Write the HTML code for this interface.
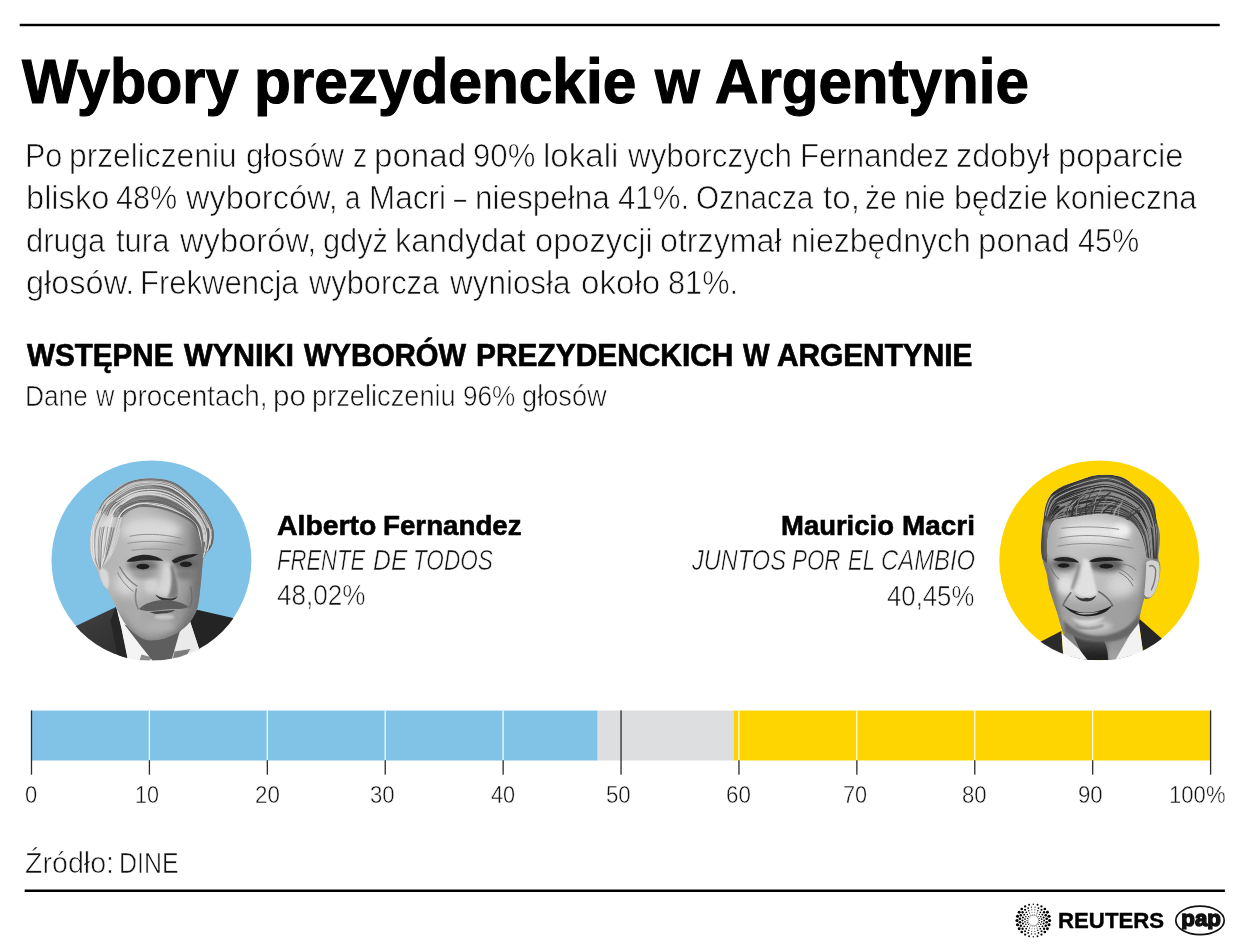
<!DOCTYPE html>
<html lang="pl">
<head>
<meta charset="utf-8">
<title>Wybory prezydenckie w Argentynie</title>
<style>
html,body{margin:0;padding:0;background:#fff}
#page{position:relative;width:1250px;height:949px;overflow:hidden;background:#fff;font-family:"Liberation Sans",sans-serif;color:#000}
.t{position:absolute;left:0;margin:0;padding:0;line-height:1;white-space:pre;font-weight:normal;font-style:normal;width:1250px;height:1em}
.t span{display:inline-block;width:0;line-height:1;vertical-align:baseline;white-space:pre;transform-origin:0 0;transform:scale(var(--s),1)}
.title,.sub,.name{font-weight:bold;color:#000}
.lead,.note,.party,.pct,.src{color:#111}
.lead span,.note span,.party span,.pct span,.src span,.axis span{-webkit-text-stroke:var(--e,1px) #fff}
.title span,.sub span,.name span,.reuters span{-webkit-text-stroke:var(--e,0) #000}
.party{font-style:italic}
.axis{color:#111}
.reuters{font-weight:bold;color:#000}
</style>
</head>
<body>
<div id="page">
<svg id="gfx" width="1250" height="949" viewBox="0 0 1250 949" style="position:absolute;left:0;top:0;display:block">
<defs><clipPath id="cA"><circle cx="151.45" cy="560.4" r="100.4"/></clipPath><clipPath id="cB"><circle cx="1099.2" cy="560.3" r="100.35000000000001"/></clipPath></defs>
<rect x="19.7" y="23.78" width="1200" height="2.45" fill="#000"/>
<rect x="24.7" y="889.5" width="1200.2" height="2.5" fill="#000"/>
<circle cx="151.45" cy="560.4" r="99.95" fill="#80c3e7"/>
<g clip-path="url(#cA)"><g transform="translate(51.45 460.40)">
<defs>
<filter id="ab0" x="-20%" y="-20%" width="140%" height="140%"><feGaussianBlur stdDeviation="0.6"/></filter>
<filter id="ab1" x="-20%" y="-20%" width="140%" height="140%"><feGaussianBlur stdDeviation="1.2"/></filter>
<filter id="ab2" x="-30%" y="-30%" width="160%" height="160%"><feGaussianBlur stdDeviation="2.5"/></filter>
<filter id="ab4" x="-40%" y="-40%" width="180%" height="180%"><feGaussianBlur stdDeviation="4.5"/></filter>
<filter id="agr" x="0" y="0" width="100%" height="100%"><feTurbulence type="fractalNoise" baseFrequency="0.9" numOctaves="2" seed="3" result="n"/><feColorMatrix in="n" type="matrix" values="0 0 0 0 0.5  0 0 0 0 0.5  0 0 0 0 0.5  1.2 0 0 0 -0.45"/><feComposite in2="SourceGraphic" operator="in"/></filter>
<clipPath id="aHead"><path d="M57 35C64 27 73 21.5 83 19.5C93 17 108 17 119 20.5C129 24 139 33 147 43C154 51 160 60 162 70C163 78 161.5 85 158 89C155 92 152.5 95 151.5 99C150.5 108 150 118 149 126C148 136 147 145 145 150C142 158 135 167 126 172C118 177 108 180 99 180C90 179 82 173 76 166C71 160 67 152 64.5 146C62 141 59 134 56 129C52 126 49.5 121 48 116C46 110 43 105 41 99C38.5 92 37.5 85 38.5 78C39.5 68 42 58 46 50C49 44 53 39 57 35Z"/></clipPath>
<clipPath id="aHair"><path d="M57 35C64 27 73 21.5 83 19.5C93 17 108 17 119 20.5C129 24 139 33 147 43C154 51 160 60 162 70C163 78 161.5 85 158 89C155 92 152.5 95 151.5 101C151 94 150.5 84 148.3 77C146 70 143 65 138 61C130 55.5 120 51.5 110 49C102 47 96 46.3 91 46.6C85 47 81 49 78 51.5C74 54.5 72 58 71 62C69.5 68 68 76 65.5 83C63.5 88 61.5 92 59.8 96C56 100 51.5 105 48.5 110C46 108 43 104 41 99C38.5 92 37.5 85 38.5 78C39.5 68 42 58 46 50C49 44 53 39 57 35Z"/></clipPath>
<linearGradient id="aHairG" x1="0" y1="0" x2="1" y2="0"><stop offset="0" stop-color="#d0d0d0"/><stop offset=".3" stop-color="#bcbcbc"/><stop offset=".65" stop-color="#959595"/><stop offset="1" stop-color="#6a6a6a"/></linearGradient>
<linearGradient id="aSkinG" x1="0" y1="0" x2="1" y2="0"><stop offset="0" stop-color="#b4b4b4"/><stop offset=".4" stop-color="#c4c4c4"/><stop offset=".75" stop-color="#a6a6a6"/><stop offset="1" stop-color="#858585"/></linearGradient>
<linearGradient id="aSuitG" x1="0" y1="0" x2="1" y2="1"><stop offset="0" stop-color="#454545"/><stop offset="1" stop-color="#2c2c2c"/></linearGradient>
<filter id="agam" x="0" y="0" width="100%" height="100%" color-interpolation-filters="sRGB"><feComponentTransfer><feFuncR type="gamma" exponent="1.12"/><feFuncG type="gamma" exponent="1.12"/><feFuncB type="gamma" exponent="1.12"/></feComponentTransfer></filter>
</defs>
<!-- backing -->
<path d="M66 150L70 168L76.5 200L140 200L147.5 188L143 152Z" fill="#f0f0f0"/>
<!-- suit -->
<path d="M0 178L24.5 165.5L64.5 146.5L70 168L76.5 200L0 200Z" fill="url(#aSuitG)"/>
<path d="M64.5 146.5L59 160L67 200L76.5 200L70 168Z" fill="#262626"/>
<path d="M144.5 149L181.5 157.5L200 162L200 200L140 200L147.5 188L138.5 160.5Z" fill="#242424"/>
<!-- shirt -->
<path d="M65 147L73 165L89 185L101 200L76.5 200L70 168Z" fill="#f4f4f4"/>
<path d="M138.5 160.5L147.5 188L140 200L118 200L127.5 172Z" fill="#eaeaea"/>
<path d="M90 194L101 197L98 200L88 200Z" fill="#8c8c8c"/>
<path d="M123 191L139 188.5L135 195L121 200Z" fill="#7c7c7c"/>
<!-- neck -->
<path d="M73 164L89 185L101 200L120 200L128 172L138 158L110 176Z" fill="#5e5e5e"/>
<g filter="url(#agam)"><g clip-path="url(#aHead)">
  <rect x="30" y="10" width="140" height="180" fill="url(#aSkinG)"/>
  <!-- forehead highlight -->
  <ellipse cx="100" cy="70" rx="30" ry="13" fill="#dedede" filter="url(#ab4)"/>
  <ellipse cx="74" cy="124" rx="11" ry="13" fill="#dcdcdc" filter="url(#ab4)"/>
  <ellipse cx="100" cy="125" rx="8" ry="9" fill="#d8d8d8" filter="url(#ab2)"/>
  <!-- right side shadow -->
  <path d="M142 62L165 60L160 160L125 184L136 152L141 122Z" fill="#7a7a7a" filter="url(#ab4)"/>
  <!-- jaw shadow -->
  <path d="M66 152C76 170 90 180 102 180C116 180 132 170 144 152L146 192L62 192Z" fill="#6a6a6a" filter="url(#ab4)"/>
  <!-- lower face tone -->
  <path d="M62 128C70 136 84 140 100 140C120 140 138 136 150 126L148 190L64 190Z" fill="#8e8e8e" opacity=".3" filter="url(#ab4)"/>
  <!-- chin light -->
  <ellipse cx="108" cy="165" rx="15" ry="6" fill="#b8b8b8" filter="url(#ab2)"/>
  <!-- forehead wrinkles -->
  <g fill="none" stroke="#9a9a9a" stroke-width="1" filter="url(#ab0)">
    <path d="M78 76C90 73 110 73 130 78"/><path d="M76 83C92 80 112 80 134 85"/><path d="M80 90C94 88 108 88 120 90"/>
  </g>
  <!-- eye sockets -->
  <ellipse cx="91" cy="105" rx="15" ry="6.5" fill="#7c7c7c" filter="url(#ab2)"/>
  <ellipse cx="134" cy="103" rx="12.5" ry="7" fill="#707070" filter="url(#ab2)"/>
  <ellipse cx="135" cy="114" rx="11" ry="5" fill="#828282" filter="url(#ab2)"/>
  <ellipse cx="92" cy="114" rx="12" ry="4" fill="#a0a0a0" filter="url(#ab2)"/>
  <!-- brows -->
  <path d="M75 101C81 95 92 93 102 95.5C106 96.5 110 98 112 100.5C105 100 98 99.5 91 100C85 100.5 80 102 75 101Z" fill="#2c2c2c" filter="url(#ab0)"/>
  <path d="M120 100.5C125 96 134 93.5 147 93.5C141 97 133 99 123 103Z" fill="#2c2c2c" filter="url(#ab0)"/>
  <!-- eyes -->
  <ellipse cx="91.5" cy="106.2" rx="6.5" ry="2.8" fill="#222" filter="url(#ab0)"/>
  <ellipse cx="134.5" cy="103.8" rx="6" ry="2.8" fill="#222" filter="url(#ab0)"/>
  <!-- nose -->
  <path d="M112 100C110 112 108 124 104 132C108 137 116 138 124 136C127 130 124 118 120 104Z" fill="#dcdcdc" filter="url(#ab2)"/>
  <path d="M121 104C125 116 128 128 126 136C123 138 119 138 116 137C120 130 121 118 119 106Z" fill="#858585" filter="url(#ab1)"/>
  <path d="M104 134C108 137 114 138.5 120 138C123 137.5 125 136.5 126 135.5C125 139 121 140.5 116 140.5C111 140.5 106 138 104 134Z" fill="#3c3c3c" filter="url(#ab0)"/>
  <!-- mustache -->
  <path d="M87.5 148.5C93 143 102 140 112 139.5C122 139.5 131 142 137.5 146.5C132 148.5 126 149 119 148.5C112 149 104 150.5 98 150.5C94 150.5 90 150 87.5 148.5Z" fill="#666" filter="url(#ab0)"/>
  <path d="M98 151.5C105 151 114 150 124 149.5C120 152.5 112 153.5 104 153.5Z" fill="#4e4e4e" filter="url(#ab0)"/>
  <ellipse cx="113" cy="156.5" rx="10" ry="2.6" fill="#cdcdcd" filter="url(#ab1)"/>
  <!-- cheek wrinkles left -->
  <g fill="none" stroke="#8c8c8c" filter="url(#ab0)">
  <path d="M68 106C72 114 78 121 86 126" stroke-width="1.3"/>
  <path d="M66 112C70 120 76 127 82 131" stroke-width="1"/>
  <path d="M85 128C83 136 84 143 87 149" stroke-width="1.6"/>
  <path d="M139 126C141 134 141 142 138 148" stroke-width="1.4" stroke="#777"/>
  </g>
  <!-- ear -->
  <path d="M47 108C50 106 55 108 57 114C58 120 58 126 56 129C52 127 49 121 47 108Z" fill="#dedede" filter="url(#ab1)"/>
  <!-- hair -->
  <g clip-path="url(#aHair)">
  <rect x="30" y="10" width="140" height="110" fill="url(#aHairG)"/>
  <g filter="url(#ab2)">
    <path d="M88 45C100 40 118 42 132 50C140 55 146 62 150 70C152 60 146 48 136 40C124 32 104 33 88 45Z" fill="#6a6a6a"/>
    <path d="M60 42C72 30 90 24 108 24C96 28 80 34 68 46C60 54 54 66 50 80C50 66 54 50 60 42Z" fill="#858585"/>
    <path d="M44 76C48 62 56 52 66 46C62 56 60 68 58 82C56 90 52 98 48 104C44 96 42 86 44 76Z" fill="#e2e2e2"/>
    <path d="M70 36C84 28 100 26 116 28C104 30 90 34 78 42Z" fill="#dadada"/>
    <path d="M150 62C157 70 161 80 159 88C157 92 153 96 152 102C151 88 150 76 146 66Z" fill="#5a5a5a"/>
    <path d="M100 21C112 19 126 25 136 33C126 29 112 25 100 25Z" fill="#6a6a6a"/>
  </g>
  <g fill="none" stroke-linecap="round" filter="url(#ab0)"><path d="M73.6 53.8C74.5 53.1 75.9 50.7 78.8 49.4C81.7 48.2 85.6 46.6 90.9 46.4C96.2 46.2 104.1 46.8 110.5 48.1C116.8 49.5 123.6 51.8 129.0 54.3C134.4 56.9 139.5 59.4 142.6 63.3C145.7 67.2 146.1 72.0 147.6 77.7C149.1 83.4 150.9 94.0 151.6 97.2" stroke="#6c6c6c" stroke-width="0.61"/><path d="M69.5 57.2C70.1 56.5 71.4 54.7 72.9 53.4C74.4 52.1 75.4 50.7 78.4 49.3C81.4 48.0 85.4 45.7 90.8 45.4C96.2 45.1 104.1 46.1 110.6 47.7C117.1 49.3 124.1 52.4 129.5 55.1C135.0 57.7 141.1 62.2 143.4 63.6" stroke="#717171" stroke-width="0.76"/><path d="M69.1 58.0C69.6 57.3 70.8 55.3 72.2 53.7C73.7 52.1 75.0 49.8 77.9 48.4C80.9 47.0 84.7 45.4 90.1 45.3C95.6 45.1 103.9 46.3 110.6 47.7C117.2 49.1 124.6 51.0 130.1 53.7C135.6 56.3 140.4 59.8 143.4 63.7C146.5 67.6 147.3 71.4 148.5 77.1C149.8 82.8 150.5 94.3 150.9 97.7" stroke="#696969" stroke-width="0.77"/><path d="M68.2 57.5C68.8 56.7 70.2 54.1 71.7 52.5C73.3 51.0 74.2 49.7 77.3 48.2C80.4 46.7 84.9 44.0 90.4 43.7C96.0 43.3 104.1 44.3 110.7 46.1C117.4 47.9 124.8 51.6 130.4 54.5C135.9 57.3 140.9 59.4 144.1 63.2C147.3 67.1 148.4 71.7 149.6 77.5C150.7 83.2 150.8 94.3 151.1 97.6" stroke="#686868" stroke-width="1.29"/><path d="M67.6 57.0C68.1 56.2 69.0 53.6 70.5 52.0C72.0 50.5 73.1 49.3 76.4 47.8C79.6 46.3 84.3 43.4 90.1 43.1C95.9 42.8 104.2 44.3 111.1 46.0C117.9 47.8 125.6 50.7 131.2 53.6C136.8 56.5 141.8 59.1 144.8 63.2C147.8 67.4 147.9 73.0 149.1 78.6C150.2 84.2 151.2 93.9 151.6 96.9" stroke="#e0e0e0" stroke-width="1.26"/><path d="M75.8 47.6C78.0 46.7 83.3 42.5 89.3 41.9C95.3 41.4 104.8 42.5 111.9 44.3C119.0 46.2 126.4 49.6 132.0 52.9C137.6 56.1 142.4 59.7 145.3 63.9C148.2 68.1 148.5 72.5 149.6 78.0C150.6 83.5 151.2 93.7 151.6 96.8" stroke="#d9d9d9" stroke-width="1.20"/><path d="M65.6 56.3C66.2 55.5 67.6 53.2 69.1 51.6C70.5 50.0 70.8 48.4 74.2 46.7C77.6 45.0 83.1 42.0 89.3 41.4C95.5 40.8 104.0 41.3 111.3 43.3C118.6 45.3 127.2 49.8 133.0 53.2C138.7 56.7 143.0 60.0 145.9 64.2C148.8 68.4 149.6 72.9 150.4 78.3C151.3 83.8 150.8 93.7 150.8 96.8" stroke="#7f7f7f" stroke-width="1.27"/><path d="M69.3 51.3C70.3 50.5 71.7 48.1 75.1 46.4C78.4 44.7 83.2 41.8 89.4 41.3C95.6 40.8 105.1 41.5 112.3 43.4C119.6 45.3 127.3 49.5 133.0 52.9C138.6 56.3 143.5 59.4 146.4 63.9C149.4 68.3 150.0 76.8 150.7 79.3" stroke="#737373" stroke-width="1.15"/><path d="M67.6 51.0C68.6 50.1 69.8 47.4 73.4 45.6C77.0 43.8 82.5 40.8 89.1 40.1C95.6 39.5 105.4 39.8 112.8 41.8C120.2 43.8 127.9 48.4 133.6 52.2C139.3 55.9 144.1 59.8 147.1 64.2C150.0 68.7 150.8 76.4 151.5 78.8" stroke="#636363" stroke-width="1.02"/><path d="M63.7 56.5C64.4 55.4 66.4 52.2 67.8 50.4C69.2 48.5 68.8 47.5 72.3 45.6C75.8 43.6 82.3 39.4 89.0 38.7C95.6 38.0 104.6 39.4 112.1 41.5C119.7 43.7 128.3 47.8 134.2 51.6C140.2 55.4 144.9 59.6 147.8 64.2C150.7 68.8 150.9 73.5 151.5 79.1C152.2 84.8 151.5 94.8 151.5 97.9" stroke="#858585" stroke-width="0.87"/><path d="M62.9 56.5C63.6 55.5 65.3 52.4 66.9 50.5C68.6 48.6 69.2 47.1 72.7 45.1C76.2 43.0 81.5 39.0 88.1 38.1C94.8 37.2 104.8 37.6 112.5 39.8C120.3 42.0 128.6 47.3 134.5 51.4C140.4 55.5 145.7 62.2 147.9 64.3" stroke="#888888" stroke-width="0.92"/><path d="M62.0 56.3C62.7 55.2 64.6 51.8 66.3 49.9C68.0 47.9 68.6 46.6 72.2 44.5C75.8 42.5 81.3 38.5 88.0 37.7C94.7 37.0 104.6 38.0 112.4 40.1C120.1 42.3 128.7 46.5 134.5 50.7C140.4 54.8 144.8 59.9 147.6 64.8C150.5 69.7 151.1 74.5 151.8 80.1C152.5 85.6 151.8 95.0 151.8 98.0" stroke="#7c7c7c" stroke-width="0.74"/><path d="M61.4 56.1C62.0 54.9 63.3 51.2 64.8 49.3C66.4 47.4 66.9 46.8 70.7 44.7C74.6 42.6 80.9 37.8 88.1 36.8C95.2 35.7 105.6 36.0 113.6 38.4C121.6 40.8 130.1 46.6 136.0 51.1C141.8 55.6 146.4 63.0 148.5 65.4" stroke="#656565" stroke-width="0.92"/><path d="M70.3 44.4C73.2 43.1 80.9 37.4 88.2 36.3C95.4 35.2 105.6 35.4 113.6 37.8C121.5 40.1 129.8 45.9 135.9 50.5C141.9 55.0 147.1 60.2 150.0 65.2C152.9 70.1 152.6 77.7 153.1 80.3" stroke="#878787" stroke-width="1.28"/><path d="M70.1 44.0C73.0 42.4 80.1 35.7 87.4 34.5C94.7 33.3 105.5 34.3 113.8 36.9C122.0 39.4 131.1 45.1 137.0 49.9C143.0 54.6 147.0 60.3 149.6 65.5C152.2 70.7 152.1 78.6 152.6 81.2" stroke="#cbcbcb" stroke-width="1.15"/><path d="M59.7 55.7C60.3 54.6 62.0 51.2 63.5 49.2C65.1 47.2 65.3 46.4 69.2 43.9C73.1 41.4 79.5 35.5 86.9 34.2C94.4 32.9 105.6 33.5 114.0 36.1C122.4 38.7 131.2 44.9 137.3 49.8C143.4 54.8 147.8 60.5 150.5 65.6C153.2 70.8 152.9 78.3 153.4 80.8" stroke="#e0e0e0" stroke-width="1.23"/><path d="M68.5 42.9C71.6 41.4 79.2 35.0 86.8 33.7C94.5 32.5 105.9 32.9 114.3 35.5C122.7 38.2 130.9 44.9 137.0 49.8C143.1 54.8 148.2 60.0 151.1 65.3C153.9 70.5 153.9 75.9 154.1 81.4C154.2 86.9 152.3 95.4 151.9 98.2" stroke="#d3d3d3" stroke-width="0.89"/><path d="M67.3 41.6C70.6 40.1 78.7 34.0 86.7 32.7C94.7 31.4 106.6 31.3 115.2 33.9C123.8 36.5 132.1 42.9 138.3 48.3C144.4 53.7 149.9 63.2 152.2 66.2" stroke="#dcdcdc" stroke-width="0.62"/><path d="M56.9 54.6C57.6 53.4 59.5 49.3 61.3 47.1C63.1 44.9 63.3 44.1 67.5 41.5C71.7 39.0 78.9 33.1 86.7 31.8C94.6 30.5 105.8 31.0 114.5 33.8C123.1 36.6 132.3 43.1 138.6 48.4C144.8 53.8 149.5 60.2 152.1 65.7C154.6 71.2 154.0 76.0 154.0 81.5C154.0 86.9 152.5 95.4 152.2 98.2" stroke="#dfdfdf" stroke-width="1.03"/><path d="M56.2 55.0C56.8 53.6 58.0 49.1 59.8 46.8C61.5 44.4 62.1 43.5 66.7 40.9C71.2 38.3 78.9 32.7 86.9 31.2C95.0 29.8 106.0 29.3 114.8 32.0C123.6 34.8 133.5 42.0 139.8 47.7C146.1 53.4 150.1 60.5 152.6 66.3C155.1 72.1 155.1 77.3 154.9 82.6C154.8 87.9 152.3 95.5 151.7 98.1" stroke="#5d5d5d" stroke-width="0.74"/><path d="M65.2 40.9C68.7 39.1 78.0 31.7 86.4 30.1C94.9 28.5 106.9 28.4 115.7 31.3C124.5 34.1 133.2 41.4 139.4 47.2C145.7 53.0 150.4 60.2 153.0 66.1C155.6 72.0 155.5 77.3 155.3 82.6C155.1 87.8 152.4 95.3 151.8 97.8" stroke="#dddddd" stroke-width="1.29"/><path d="M54.8 54.1C55.5 52.7 57.2 48.3 58.8 46.1C60.5 43.8 60.3 43.1 64.8 40.3C69.3 37.5 77.3 30.8 85.8 29.2C94.2 27.7 106.0 27.9 115.2 30.9C124.4 33.8 134.5 40.9 141.0 46.9C147.5 52.8 152.0 63.2 154.2 66.5" stroke="#c3c3c3" stroke-width="0.72"/><path d="M54.1 54.3C54.9 52.9 56.8 48.6 58.5 46.2C60.2 43.9 59.8 43.0 64.3 40.2C68.8 37.4 77.0 31.0 85.7 29.2C94.4 27.5 107.0 26.8 116.3 29.8C125.6 32.9 135.0 41.2 141.4 47.3C147.8 53.5 152.5 60.7 154.9 66.7C157.3 72.7 156.2 78.1 155.8 83.4C155.5 88.7 153.3 96.0 152.8 98.6" stroke="#7a7a7a" stroke-width="0.88"/><path d="M52.8 53.2C53.5 52.0 55.3 48.1 57.1 45.8C58.9 43.5 59.0 42.2 63.8 39.2C68.6 36.2 77.2 29.5 86.0 27.9C94.7 26.2 106.8 26.2 116.1 29.3C125.4 32.4 135.1 40.4 141.6 46.7C148.1 53.0 152.6 60.9 155.1 67.1C157.6 73.2 156.3 80.8 156.5 83.5" stroke="#828282" stroke-width="0.62"/><path d="M63.0 38.6C66.6 36.6 76.0 28.6 84.8 26.8C93.7 25.1 106.4 24.8 116.0 28.1C125.6 31.3 135.9 39.9 142.5 46.4C149.1 52.9 153.6 63.7 155.8 67.2" stroke="#828282" stroke-width="1.05"/><path d="M51.6 52.9C52.4 51.5 54.5 46.9 56.3 44.5C58.1 42.0 57.5 41.3 62.3 38.2C67.0 35.2 75.9 27.9 84.9 26.2C93.9 24.4 106.7 24.6 116.3 27.9C125.9 31.2 135.9 39.5 142.6 45.9C149.3 52.4 154.2 60.3 156.5 66.6C158.9 73.0 156.8 81.1 156.9 84.0" stroke="#656565" stroke-width="1.10"/><path d="M50.3 52.9C51.2 51.6 53.7 47.0 55.7 44.6C57.8 42.2 57.7 41.8 62.5 38.7C67.2 35.6 75.1 28.3 84.3 26.2C93.4 24.2 107.6 23.2 117.5 26.4C127.3 29.7 136.9 38.8 143.4 45.6C149.9 52.5 154.5 63.8 156.7 67.4" stroke="#cecece" stroke-width="1.26"/><path d="M54.8 44.3C55.8 43.3 55.7 41.3 60.6 37.9C65.5 34.6 75.1 26.2 84.4 24.1C93.8 22.1 107.0 22.3 116.8 25.8C126.6 29.3 136.4 38.3 143.2 45.1C150.0 52.0 155.3 60.5 157.7 67.0C160.1 73.6 158.4 79.1 157.5 84.4C156.6 89.8 153.4 96.5 152.5 99.0" stroke="#e0e0e0" stroke-width="1.27"/><path d="M49.5 53.3C50.2 51.7 52.1 46.3 53.9 43.7C55.6 41.1 55.1 40.9 60.1 37.5C65.2 34.2 74.7 25.9 84.3 23.8C93.9 21.8 107.8 21.8 117.8 25.2C127.7 28.7 137.0 37.5 143.8 44.6C150.7 51.6 156.2 63.9 158.6 67.7" stroke="#5a5a5a" stroke-width="0.64"/><path d="M52.9 43.7C54.0 42.5 54.3 40.0 59.5 36.6C64.8 33.2 74.6 25.4 84.3 23.3C94.1 21.3 107.9 20.8 117.9 24.3C127.9 27.8 137.8 37.1 144.5 44.3C151.2 51.5 155.8 60.9 158.2 67.6C160.5 74.3 158.6 81.5 158.7 84.2" stroke="#d8d8d8" stroke-width="1.04"/><path d="M47.2 52.9C48.0 51.3 50.0 46.1 52.1 43.3C54.2 40.5 54.4 39.7 59.7 36.2C65.0 32.7 74.0 24.6 83.8 22.4C93.6 20.2 108.4 19.6 118.6 23.1C128.9 26.7 138.3 36.3 145.1 43.7C152.0 51.0 157.4 60.1 159.6 67.0C161.8 73.9 158.6 82.2 158.4 85.2" stroke="#d2d2d2" stroke-width="0.81"/><path d="M46.9 51.9C47.6 50.4 49.4 45.8 51.3 43.1C53.3 40.4 53.4 39.4 58.7 35.7C64.0 32.1 73.1 23.4 83.1 21.1C93.1 18.8 108.3 18.4 118.7 22.2C129.1 26.0 138.5 36.4 145.4 44.0C152.2 51.7 157.4 64.2 159.8 68.2" stroke="#7c7c7c" stroke-width="0.91"/><path d="M45.8 52.7C46.7 51.0 49.3 45.0 51.3 42.1C53.3 39.2 52.3 39.0 57.6 35.4C62.9 31.7 73.0 22.7 83.1 20.3C93.3 18.0 108.0 17.2 118.5 21.1C129.1 25.0 139.5 35.9 146.4 43.8C153.4 51.6 158.2 61.3 160.4 68.2C162.6 75.1 159.8 82.5 159.7 85.3" stroke="#7a7a7a" stroke-width="0.80"/><path d="M50.8 42.9C51.9 41.7 52.5 39.6 57.8 35.8C63.1 32.0 72.5 22.8 82.7 20.3C92.9 17.8 108.5 16.9 119.1 20.8C129.6 24.7 139.0 35.9 146.0 43.6C153.0 51.4 158.6 60.4 160.9 67.4C163.2 74.3 160.0 82.3 159.8 85.3" stroke="#717171" stroke-width="0.77"/><path d="M68.6 68.2C68.1 70.6 66.7 77.8 65.2 82.3C63.6 86.9 61.9 91.3 59.4 95.6C56.9 100.0 51.6 106.4 50.1 108.5" stroke="#e5e5e5" stroke-width="0.77"/><path d="M69.7 57.1C69.3 59.0 68.4 63.8 67.3 68.2C66.1 72.5 64.5 78.6 63.0 83.1C61.5 87.7 58.9 93.3 58.1 95.4" stroke="#d7d7d7" stroke-width="1.21"/><path d="M69.7 56.9C69.1 58.7 67.5 63.6 66.4 67.8C65.2 72.1 64.1 77.7 62.7 82.3C61.4 86.9 60.5 91.2 58.4 95.6C56.3 100.0 51.6 106.5 50.2 108.7" stroke="#e1e1e1" stroke-width="0.72"/><path d="M68.2 56.1C67.6 58.0 65.8 63.0 64.7 67.5C63.5 72.0 62.3 78.3 61.0 82.9C59.7 87.5 58.9 91.0 57.0 95.3C55.1 99.5 50.8 106.3 49.5 108.6" stroke="#f4f4f4" stroke-width="0.62"/><path d="M62.5 67.4C61.9 69.8 60.4 77.0 59.2 81.7C57.9 86.4 55.7 93.1 54.9 95.3" stroke="#878787" stroke-width="1.13"/><path d="M60.2 67.4C59.8 69.8 58.8 76.8 57.8 81.6C56.9 86.4 56.0 91.8 54.7 96.2C53.3 100.6 50.4 106.1 49.5 108.0" stroke="#848484" stroke-width="0.84"/><path d="M59.9 67.4C59.3 69.8 57.4 77.1 56.4 81.8C55.3 86.5 54.6 91.0 53.3 95.5C52.0 100.0 49.4 106.7 48.6 108.9" stroke="#868686" stroke-width="0.63"/><path d="M61.7 54.9C61.1 57.0 59.0 62.8 57.8 67.1C56.6 71.5 55.4 76.5 54.6 81.3C53.8 86.0 53.9 91.0 52.9 95.6C51.9 100.3 49.5 106.9 48.8 109.2" stroke="#ececec" stroke-width="1.26"/><path d="M56.4 66.7C56.0 69.2 55.0 76.4 54.3 81.5C53.5 86.5 52.2 94.3 51.7 96.9" stroke="#9f9f9f" stroke-width="0.92"/><path d="M55.0 66.9C54.5 69.4 52.8 76.4 52.3 81.4C51.7 86.4 52.2 92.4 51.6 97.0C51.0 101.6 49.2 107.0 48.7 108.9" stroke="#d9d9d9" stroke-width="0.79"/><path d="M53.7 67.3C53.3 69.6 51.8 76.7 51.2 81.6C50.6 86.4 50.5 91.9 50.1 96.5C49.6 101.0 48.9 106.8 48.6 108.8" stroke="#eeeeee" stroke-width="1.08"/><path d="M52.7 66.3C52.3 68.7 50.9 75.9 50.3 81.0C49.8 86.1 49.7 91.9 49.5 96.6C49.2 101.4 48.8 107.2 48.7 109.3" stroke="#8c8c8c" stroke-width="1.05"/><path d="M50.9 67.2C50.5 69.6 48.9 76.7 48.5 81.7C48.1 86.6 48.5 92.4 48.4 96.9C48.4 101.5 48.2 106.9 48.1 108.9" stroke="#9e9e9e" stroke-width="0.93"/><path d="M48.8 67.0C48.5 69.3 47.4 76.1 47.1 81.1C46.8 86.2 46.7 92.5 46.9 97.2C47.1 101.9 48.0 107.5 48.3 109.5" stroke="#828282" stroke-width="0.71"/><path d="M54.2 52.4C53.1 54.7 48.9 61.9 47.5 66.5C46.1 71.2 46.0 75.2 45.7 80.3C45.4 85.4 45.8 94.2 45.8 96.9" stroke="#dcdcdc" stroke-width="0.62"/><path d="M52.8 51.5C51.8 53.9 48.4 61.0 47.1 65.9C45.7 70.7 44.8 75.2 44.5 80.4C44.2 85.6 44.6 92.0 45.2 96.9C45.8 101.7 47.6 107.3 48.1 109.4" stroke="#e9e9e9" stroke-width="0.67"/><path d="M51.9 51.8C50.7 54.3 46.3 62.0 44.9 66.7C43.5 71.5 43.5 75.2 43.3 80.4C43.2 85.5 43.1 92.6 43.9 97.6C44.6 102.6 47.0 108.1 47.6 110.2" stroke="#949494" stroke-width="0.85"/><path d="M49.7 51.0C48.5 53.5 43.9 61.5 42.6 66.4C41.3 71.2 41.8 75.0 41.8 80.2C41.9 85.3 42.7 94.5 42.9 97.4" stroke="#f4f4f4" stroke-width="0.87"/><path d="M41.2 66.7C41.0 68.9 39.8 74.8 39.9 80.1C40.0 85.3 40.6 93.5 41.8 98.4C43.0 103.4 46.2 107.8 47.1 109.6" stroke="#dadada" stroke-width="1.04"/><path d="M48.1 49.6C46.9 52.3 42.2 60.7 40.8 65.8C39.5 70.9 39.7 75.1 39.8 80.4C39.8 85.7 40.1 92.6 41.2 97.6C42.4 102.7 45.8 108.4 46.7 110.5" stroke="#e9e9e9" stroke-width="0.93"/></g>
  </g>
  <rect x="30" y="10" width="140" height="180" fill="#000" filter="url(#agr)" opacity=".18"/>
</g>
</g>
</g></g>
<circle cx="1099.2" cy="560.3" r="99.9" fill="#ffd500"/>
<g clip-path="url(#cB)"><g transform="translate(999.20 460.30)">
<defs>
<filter id="bb0" x="-20%" y="-20%" width="140%" height="140%"><feGaussianBlur stdDeviation="0.6"/></filter>
<filter id="bb1" x="-20%" y="-20%" width="140%" height="140%"><feGaussianBlur stdDeviation="1.2"/></filter>
<filter id="bb2" x="-30%" y="-30%" width="160%" height="160%"><feGaussianBlur stdDeviation="2.5"/></filter>
<filter id="bb4" x="-40%" y="-40%" width="180%" height="180%"><feGaussianBlur stdDeviation="4.5"/></filter>
<filter id="bgr" x="0" y="0" width="100%" height="100%"><feTurbulence type="fractalNoise" baseFrequency="0.9" numOctaves="2" seed="7" result="n"/><feColorMatrix in="n" type="matrix" values="0 0 0 0 0.5  0 0 0 0 0.5  0 0 0 0 0.5  1.2 0 0 0 -0.45"/><feComposite in2="SourceGraphic" operator="in"/></filter>
<clipPath id="bHead"><path d="M44.8 55C45.5 48 47 42 50 37C54 31 60 27 67 24.5C73 22 78 21 82 19.5C86 17.5 90 16.5 94 15.5C100 14.3 106 14.2 112 14.6C117 15 121 16 124 17.5C128 19.5 131 22 134 24.5C138 27.5 142 30 146 33.5C150 37 153.5 41 155 45C156.5 49 156.5 54 157 58C158 63 160 68 160.6 74C161 80 160.5 86 159.5 92C159 95 159 98 160 101C161.5 104 161.5 110 160.5 116C159.5 123 157 130 154 134.5C151.5 138 148 139.5 145 138C143.5 143 142 149 141 154C140 160 139 166 138 172C136 180 134 190 132 200L72 200C70 192 68 184 65.5 177C63 170 60.5 162 58.5 154C56 146 53 138 50.5 130C49 124 48.5 118 47.5 113C46 108 44 103 43 98C41.5 92 41.5 86 42 80C42.3 72 43.5 63 44.8 55Z"/></clipPath>
<clipPath id="bHair"><path d="M44.8 55C45.5 48 47 42 50 37C54 31 60 27 67 24.5C73 22 78 21 82 19.5C86 17.5 90 16.5 94 15.5C100 14.3 106 14.2 112 14.6C117 15 121 16 124 17.5C128 19.5 131 22 134 24.5C138 27.5 142 30 146 33.5C150 37 153.5 41 155 45C156.5 49 156.5 54 157 58C158 63 160 68 160.6 74C161 80 160.5 86 159.5 92C159 95 158.5 98 158 101C155 100 151 99 147.5 97C146.5 90 145 82 142 75C139.5 69 136 64 131 61C126 58 120 56 113 54.5C106 53 99 53 92 54C84 55 76 56.5 69 57C64 57.5 59 58 55.5 59.5C52 62 50 67 48.5 73C47.5 80 47.5 88 48 95C48 98 47.5 101 47.4 103C45.5 101 44 99.5 43 98C41.5 92 41.5 86 42 80C42.3 72 43.5 63 44.8 55Z"/></clipPath>
<linearGradient id="bHairG" x1="0" y1="0" x2="1" y2="0.3"><stop offset="0" stop-color="#7a7a7a"/><stop offset=".25" stop-color="#4e4e4e"/><stop offset=".6" stop-color="#6e6e6e"/><stop offset="1" stop-color="#8e8e8e"/></linearGradient>
<linearGradient id="bSkinG" x1="0" y1="0" x2="1" y2="0"><stop offset="0" stop-color="#ababab"/><stop offset=".3" stop-color="#cfcfcf"/><stop offset=".7" stop-color="#c4c4c4"/><stop offset="1" stop-color="#a4a4a4"/></linearGradient>
<filter id="bgam" x="0" y="0" width="100%" height="100%" color-interpolation-filters="sRGB"><feComponentTransfer><feFuncR type="gamma" exponent="1.25"/><feFuncG type="gamma" exponent="1.25"/><feFuncB type="gamma" exponent="1.25"/></feComponentTransfer></filter>
</defs>
<!-- suit -->
<path d="M30 187L42.7 180.8L62.1 170.7L63.8 192L66 200L30 200Z" fill="#2b2b2b"/>
<path d="M139.2 157.7L162.2 177.9L175 188L170 200L140 200L143.5 189.4Z" fill="#262626"/>
<!-- shirt -->
<g filter="url(#bgam)"><g clip-path="url(#bHead)">
  <rect x="30" y="10" width="140" height="190" fill="url(#bSkinG)"/>
  <!-- neck -->
  <path d="M66 172C78 180 96 182 112 178C124 174 134 166 140 156L140 200L66 200Z" fill="#9c9c9c"/>
  <path d="M74 175C82 179 94 181 104 179.5C107 184 109 192 109 200L86 200C82 192 78 184 74 175Z" fill="#2e2e2e" filter="url(#bb0)"/>
  <path d="M110 180C120 176 130 168 138 158L136 175L124 200L110 200Z" fill="#b4b4b4" filter="url(#bb1)"/>
  <!-- forehead highlight -->
  <ellipse cx="96" cy="72" rx="34" ry="11" fill="#ececec" filter="url(#bb4)"/>
  <ellipse cx="122" cy="70" rx="9" ry="7" fill="#f4f4f4" filter="url(#bb2)"/>
  <ellipse cx="66" cy="125" rx="9" ry="10" fill="#e6e6e6" filter="url(#bb2)"/>
  <ellipse cx="122" cy="125" rx="14" ry="12" fill="#dedede" filter="url(#bb4)"/>
  <!-- side shadows -->
  <path d="M42 95L50 100L62 160L70 185L40 185Z" fill="#8a8a8a" filter="url(#bb2)"/>
  <path d="M146 100L142 140L136 165L150 165L160 100Z" fill="#909090" filter="url(#bb2)"/>
  <!-- lower face tone -->
  <path d="M48 128C60 138 76 142 92 142C112 142 132 138 146 128L142 190L60 190Z" fill="#909090" opacity=".4" filter="url(#bb4)"/>
  <!-- jaw/chin shadow -->
  <path d="M64 160C76 172 92 177 106 175C120 173 132 166 140 154L140 168C130 178 116 182 102 182C88 182 74 178 66 172Z" fill="#7a7a7a" filter="url(#bb1)"/>
  <ellipse cx="96" cy="166" rx="17" ry="6" fill="#d2d2d2" filter="url(#bb2)"/>
  <!-- forehead wrinkles -->
  <g fill="none" stroke="#a2a2a2" stroke-width="1" filter="url(#bb0)">
    <path d="M60 78C78 74 104 74 130 80"/><path d="M58 86C78 82 104 82 134 88"/><path d="M62 68C80 66 100 66 120 69"/>
  </g>
  <!-- eye sockets -->
  <ellipse cx="65" cy="104" rx="13" ry="6" fill="#757575" filter="url(#bb2)"/>
  <ellipse cx="107" cy="104.5" rx="17" ry="6.5" fill="#6e6e6e" filter="url(#bb2)"/>
  <!-- brows -->
  <path d="M54 99.5C59 96 66 96 73 98C76 99 78.5 100.5 80 102.5C74 101.5 68 101 62 101C59 101 56 101 54 99.5Z" fill="#333" filter="url(#bb0)"/>
  <path d="M89 101.5C94 97.5 102 96.5 111 97C116 97.5 121 98.5 124.5 100.5C118 100.5 111 100.5 104 101C99 101.5 94 102.5 89 101.5Z" fill="#2c2c2c" filter="url(#bb0)"/>
  <!-- eyes -->
  <ellipse cx="64.5" cy="105.2" rx="6" ry="2.2" fill="#262626" filter="url(#bb0)"/>
  <ellipse cx="107" cy="105.8" rx="7" ry="2.3" fill="#262626" filter="url(#bb0)"/>
  <!-- crow's feet -->
  <g fill="none" stroke="#8a8a8a" stroke-width="1" filter="url(#bb0)">
    <path d="M118 108C124 110 130 114 134 120"/><path d="M120 112C126 115 131 120 134 126"/><path d="M122 104C128 104 133 106 137 110"/>
    <path d="M52 108C54 112 56 116 60 119"/><path d="M50 104C52 108 53 111 55 114"/>
  </g>
  <!-- nose -->
  <path d="M84 98C83 110 80 122 75 130C78 137 90 139 98 134C97 126 93 112 90 100Z" fill="#e8e8e8" filter="url(#bb1)"/>
  <path d="M80 104C78 114 75 122 72.5 129" stroke="#8a8a8a" stroke-width="1.8" fill="none" filter="url(#bb1)"/>
  <path d="M76 135C79 138 83 139 87 137.5C90 138.5 94 138 97 135C95 140 91 141.5 86 141C82 141 78 139 76 135Z" fill="#444" filter="url(#bb0)"/>
  <!-- nasolabial folds -->
  <g fill="none" stroke="#808080" stroke-width="1.6" filter="url(#bb0)">
    <path d="M72 132C68 137 65 141 63.5 146"/>
    <path d="M99 131C106 135 111 140 114 146"/>
  </g>
  <!-- mouth -->
  <path d="M64.3 144.8C70 149 78 152 86 152.5C96 152.5 106 149.5 113.2 144.8C109 152 100 156 88 156C78 156 69 151.5 64.3 144.8Z" fill="#2f2f2f" filter="url(#bb0)"/>
  <path d="M76 151.6C82 153 94 153 101 151C97 153.6 92 154.2 87 154.2C82 154.2 78 153.2 76 151.6Z" fill="#bdbdbd" filter="url(#bb0)"/>
  <path d="M72 157C80 161 96 161 106 156C102 162 94 164.5 87 164.5C80 164.5 75 161 72 157Z" fill="#e2e2e2" filter="url(#bb1)"/>
  <path d="M76 166C84 169 96 169 104 165" stroke="#8c8c8c" stroke-width="1.6" fill="none" filter="url(#bb1)"/>
  <!-- ear -->
  <path d="M147 102C151 99 157 99.5 159.5 103C161 108 160.5 116 159 123C157.5 129 155 134 152 136.5C149 138 146 137 145 134C146 124 147 112 147 102Z" fill="#dcdcdc"/>
  <path d="M150 106C153 104 156 106 156.5 110C156.5 116 155 124 152 130" stroke="#8c8c8c" stroke-width="1.4" fill="none" filter="url(#bb0)"/>
  <!-- hair -->
  <g clip-path="url(#bHair)">
  <rect x="30" y="10" width="140" height="100" fill="url(#bHairG)"/>
  <g filter="url(#bb2)">
    <path d="M56 40C62 32 72 28 84 28C80 34 78 42 80 50C72 52 62 54 56 56C54 50 54 44 56 40Z" fill="#2e2e2e"/>
    <path d="M88 22C100 18 114 18 126 22C118 24 108 28 100 34C94 30 90 26 88 22Z" fill="#a8a8a8"/>
    <path d="M104 36C116 34 130 38 140 46C146 52 150 60 152 68C146 62 138 56 128 52C120 48 112 44 104 36Z" fill="#555"/>
    <path d="M44 60C46 70 46 84 46 98L50 98C49 86 50 72 54 62Z" fill="#9a9a9a"/>
    <path d="M140 66C148 72 154 82 156 96L149 96C148 86 146 76 140 66Z" fill="#a5a5a5"/>
    <path d="M84 48C96 44 110 46 122 52C112 52 100 52 90 54Z" fill="#9e9e9e"/>
  </g>
  <g fill="none" stroke-linecap="round" filter="url(#bb0)"><path d="M68.9 56.6C72.8 56.2 85.0 54.6 92.3 54.2C99.7 53.9 106.6 53.3 113.0 54.3C119.4 55.4 125.9 56.8 130.7 60.3C135.6 63.7 139.2 68.9 141.9 75.0C144.6 81.2 146.2 93.6 147.0 97.4" stroke="#9e9e9e" stroke-width="0.74"/><path d="M68.3 55.3C72.1 54.8 83.9 52.6 91.3 52.3C98.7 51.9 105.8 51.9 112.5 53.0C119.2 54.2 126.5 55.7 131.6 59.2C136.7 62.7 140.3 67.6 143.2 73.9C146.0 80.2 147.7 93.1 148.6 97.0" stroke="#434343" stroke-width="1.14"/><path d="M54.6 59.6C56.8 59.0 61.5 57.5 67.7 56.3C73.9 55.1 84.3 53.1 91.9 52.4C99.5 51.8 106.6 51.3 113.3 52.4C120.0 53.5 127.2 55.3 132.1 59.0C137.0 62.8 140.2 68.3 142.8 74.7C145.5 81.1 146.9 93.7 147.8 97.6" stroke="#454545" stroke-width="1.03"/><path d="M54.5 58.5C56.6 58.0 60.8 56.5 67.0 55.3C73.3 54.0 84.1 51.7 91.7 51.0C99.4 50.3 106.1 49.9 112.9 51.1C119.7 52.3 127.5 54.5 132.6 58.3C137.7 62.1 140.8 67.5 143.5 73.9C146.2 80.3 147.8 92.9 148.6 96.7" stroke="#a2a2a2" stroke-width="1.53"/><path d="M66.7 54.0C70.8 53.4 83.6 51.2 91.3 50.6C99.0 50.0 105.8 49.1 112.7 50.4C119.7 51.7 127.6 54.6 132.8 58.5C138.1 62.3 142.4 71.0 144.3 73.5" stroke="#555555" stroke-width="1.23"/><path d="M66.2 54.1C70.2 53.1 82.3 49.3 90.1 48.4C98.0 47.6 106.0 47.5 113.2 49.0C120.4 50.5 128.1 53.4 133.2 57.4C138.3 61.3 142.0 70.2 143.8 72.8" stroke="#a4a4a4" stroke-width="0.85"/><path d="M54.5 59.1C56.5 58.1 60.3 54.9 66.4 53.2C72.5 51.5 83.2 49.7 91.0 48.8C98.8 47.9 106.1 46.5 113.1 47.9C120.1 49.3 127.7 53.0 132.9 57.2C138.2 61.5 142.0 66.8 144.8 73.5C147.5 80.1 148.6 93.1 149.4 97.1" stroke="#525252" stroke-width="0.98"/><path d="M52.9 58.9C55.2 57.7 60.1 54.0 66.3 52.1C72.6 50.2 82.4 48.5 90.2 47.7C98.0 46.8 106.0 45.7 113.2 47.1C120.5 48.4 128.1 51.4 133.5 55.7C138.9 60.0 142.9 66.2 145.6 73.0C148.2 79.9 148.6 92.8 149.2 96.7" stroke="#989898" stroke-width="1.10"/><path d="M65.1 52.4C69.2 51.5 81.9 48.0 89.8 47.0C97.6 45.9 105.1 44.6 112.5 46.0C119.8 47.4 128.2 50.9 133.7 55.3C139.2 59.7 142.9 65.4 145.5 72.4C148.1 79.4 148.7 93.3 149.3 97.5" stroke="#505050" stroke-width="1.41"/><path d="M53.5 58.1C55.4 57.0 59.3 53.5 65.4 51.5C71.5 49.5 82.2 47.0 90.0 46.0C97.8 45.0 104.9 43.8 112.2 45.4C119.6 46.9 128.6 50.8 134.1 55.3C139.7 59.7 143.5 69.3 145.4 72.1" stroke="#555555" stroke-width="0.79"/><path d="M65.1 50.7C69.1 49.7 81.6 46.1 89.6 44.9C97.5 43.7 105.2 41.8 112.8 43.4C120.4 45.0 129.8 49.6 135.4 54.3C140.9 58.9 143.4 64.3 146.1 71.3C148.7 78.4 150.3 92.6 151.1 96.8" stroke="#9a9a9a" stroke-width="1.43"/><path d="M51.8 58.4C53.9 57.0 57.8 52.7 63.9 50.3C70.1 47.8 80.9 45.1 88.9 43.7C97.0 42.4 104.6 40.7 112.4 42.2C120.1 43.7 129.6 47.7 135.3 52.6C141.1 57.5 144.3 64.1 146.9 71.6C149.6 79.0 150.4 93.0 151.1 97.2" stroke="#a3a3a3" stroke-width="1.14"/><path d="M88.8 43.1C92.8 43.0 105.1 40.8 112.9 42.4C120.8 43.9 130.3 47.7 136.1 52.5C141.8 57.3 145.5 68.0 147.4 71.1" stroke="#4d4d4d" stroke-width="1.31"/><path d="M63.5 49.8C67.8 48.7 81.2 44.6 89.2 43.2C97.3 41.7 104.3 39.6 112.1 41.1C119.8 42.5 129.9 46.8 135.7 51.8C141.5 56.7 145.0 67.6 146.9 70.8" stroke="#a1a1a1" stroke-width="1.55"/><path d="M52.2 58.1C53.9 56.5 56.3 51.1 62.4 48.3C68.4 45.6 80.2 42.8 88.5 41.5C96.8 40.2 104.4 38.8 112.3 40.3C120.3 41.8 130.3 45.7 136.3 50.6C142.3 55.5 146.3 66.6 148.3 69.8" stroke="#3e3e3e" stroke-width="1.24"/><path d="M51.5 57.7C53.3 56.1 56.6 50.8 62.6 48.0C68.7 45.1 79.5 42.2 87.8 40.7C96.1 39.2 104.1 37.3 112.3 38.9C120.6 40.4 131.3 44.7 137.3 49.9C143.3 55.2 146.0 62.7 148.5 70.6C151.0 78.4 151.5 92.4 152.1 96.8" stroke="#3a3a3a" stroke-width="1.25"/><path d="M51.2 57.1C52.9 55.5 55.5 50.3 61.7 47.3C67.9 44.4 79.9 41.0 88.3 39.4C96.7 37.9 103.9 36.5 112.1 38.2C120.4 39.9 133.4 47.7 137.6 49.6" stroke="#9d9d9d" stroke-width="1.06"/><path d="M51.3 58.0C53.1 56.1 55.9 49.6 62.0 46.3C68.1 43.0 79.2 39.9 87.7 38.4C96.2 36.9 104.7 35.6 113.0 37.3C121.4 39.0 132.0 43.2 137.9 48.6C143.8 54.0 146.0 61.5 148.5 69.7C151.0 77.8 152.0 92.9 152.7 97.6" stroke="#b0b0b0" stroke-width="1.00"/><path d="M50.9 57.9C52.5 55.9 54.6 49.2 60.7 46.0C66.8 42.7 78.9 40.1 87.4 38.5C96.0 36.8 103.9 34.4 112.2 36.0C120.5 37.6 131.1 42.3 137.3 47.9C143.5 53.4 147.3 65.7 149.3 69.3" stroke="#3d3d3d" stroke-width="0.79"/><path d="M60.8 45.8C65.1 44.2 78.4 38.2 87.0 36.3C95.7 34.4 104.4 32.5 112.9 34.3C121.4 36.1 131.7 41.4 137.9 47.1C144.1 52.9 148.0 65.1 150.0 68.7" stroke="#adadad" stroke-width="1.14"/><path d="M60.9 45.6C65.2 44.2 77.9 38.8 86.6 36.9C95.3 35.1 104.2 32.6 113.0 34.4C121.7 36.2 132.9 41.9 139.1 47.7C145.2 53.5 147.5 60.6 149.9 69.0C152.4 77.3 153.2 93.0 153.8 97.9" stroke="#a2a2a2" stroke-width="1.25"/><path d="M59.4 45.1C63.9 43.5 77.9 37.7 86.6 35.8C95.4 33.9 103.4 31.8 112.1 33.5C120.9 35.3 132.7 40.7 139.2 46.5C145.6 52.3 148.5 60.0 150.9 68.4C153.3 76.9 153.1 92.3 153.5 97.0" stroke="#9d9d9d" stroke-width="1.19"/><path d="M48.9 56.8C50.7 54.6 53.1 47.1 59.4 43.3C65.7 39.5 77.7 35.8 86.5 34.0C95.3 32.1 103.1 30.3 112.0 32.3C120.8 34.2 133.1 40.0 139.6 45.8C146.1 51.6 149.2 63.6 151.1 67.1" stroke="#a4a4a4" stroke-width="1.28"/><path d="M58.6 43.2C63.2 41.6 77.0 35.6 85.9 33.5C94.8 31.4 103.1 29.1 112.1 30.8C121.1 32.6 133.2 38.0 139.9 44.1C146.5 50.2 149.4 58.4 151.9 67.4C154.4 76.3 154.2 92.8 154.7 97.9" stroke="#565656" stroke-width="1.04"/><path d="M49.2 56.8C50.9 54.5 53.2 46.5 59.2 42.6C65.3 38.7 76.7 35.3 85.6 33.2C94.5 31.2 103.8 28.3 112.8 30.1C121.8 32.0 133.0 37.9 139.6 44.1C146.2 50.2 149.7 58.2 152.1 67.1C154.6 76.0 154.1 92.4 154.5 97.5" stroke="#4a4a4a" stroke-width="1.32"/><path d="M57.7 42.5C62.4 40.8 76.8 34.4 85.9 32.2C94.9 30.0 102.8 27.4 112.0 29.1C121.2 30.9 134.5 36.4 141.2 42.7C147.9 49.0 150.3 62.7 152.1 66.8" stroke="#b0b0b0" stroke-width="0.94"/><path d="M48.1 56.5C49.8 54.0 51.7 45.6 57.9 41.3C64.2 37.0 76.5 33.1 85.6 30.8C94.7 28.5 103.3 25.8 112.5 27.7C121.7 29.6 134.0 35.8 140.6 42.2C147.2 48.7 150.2 62.5 152.1 66.6" stroke="#9b9b9b" stroke-width="1.49"/><path d="M48.4 56.3C49.8 53.9 51.2 46.0 57.2 41.7C63.3 37.3 75.7 32.8 84.9 30.3C94.1 27.8 103.1 24.8 112.5 26.8C121.8 28.8 134.4 35.8 141.2 42.3C148.0 48.8 150.8 56.8 153.2 66.0C155.6 75.1 155.1 92.1 155.5 97.4" stroke="#393939" stroke-width="1.28"/><path d="M48.1 55.8C49.6 53.2 50.7 44.7 56.9 40.2C63.1 35.8 76.0 31.7 85.2 29.2C94.4 26.8 102.8 23.8 112.1 25.8C121.4 27.7 134.3 34.4 141.1 41.1C147.9 47.7 150.5 56.5 153.0 65.9C155.5 75.3 155.6 92.1 156.1 97.4" stroke="#a8a8a8" stroke-width="0.80"/><path d="M56.7 40.1C61.3 38.2 74.9 30.9 84.2 28.3C93.4 25.8 102.8 22.6 112.4 24.7C122.0 26.8 134.7 34.1 141.7 40.9C148.6 47.7 152.1 61.4 154.1 65.5" stroke="#393939" stroke-width="0.97"/><path d="M56.5 39.0C61.1 37.2 75.1 30.8 84.4 28.3C93.8 25.9 103.0 22.3 112.6 24.4C122.2 26.4 135.1 33.8 142.0 40.7C148.8 47.6 151.7 61.5 153.6 65.7" stroke="#4e4e4e" stroke-width="1.18"/><path d="M47.5 55.9C48.9 53.0 50.0 43.4 56.1 38.5C62.2 33.7 74.6 29.1 84.0 26.6C93.3 24.2 102.2 21.7 112.0 23.8C121.9 25.9 136.0 32.4 143.0 39.2C150.0 45.9 152.0 54.6 154.2 64.4C156.5 74.2 156.3 92.2 156.7 97.7" stroke="#a3a3a3" stroke-width="1.48"/><path d="M55.2 38.4C59.9 36.3 74.2 28.4 83.7 25.7C93.2 22.9 102.3 19.8 112.2 21.9C122.1 24.0 135.7 31.3 143.0 38.3C150.2 45.4 153.2 54.6 155.5 64.4C157.7 74.2 156.3 91.8 156.5 97.2" stroke="#b2b2b2" stroke-width="1.00"/><path d="M46.6 56.0C48.0 52.9 48.6 42.6 54.7 37.5C60.8 32.3 73.7 27.8 83.3 25.1C93.0 22.4 102.5 19.1 112.6 21.1C122.6 23.2 136.4 30.4 143.6 37.6C150.8 44.9 153.7 54.4 155.9 64.5C158.1 74.5 156.6 92.5 156.8 98.1" stroke="#4d4d4d" stroke-width="1.57"/><path d="M46.1 55.4C47.6 52.3 48.6 41.8 54.7 36.5C60.9 31.3 73.6 26.9 83.2 24.1C92.7 21.2 101.6 17.2 111.9 19.4C122.1 21.6 137.0 29.7 144.4 37.2C151.8 44.6 154.0 53.8 156.2 64.0C158.5 74.2 157.7 92.6 158.0 98.3" stroke="#565656" stroke-width="1.15"/><path d="M54.0 36.4C58.9 34.2 73.7 25.9 83.3 23.0C92.9 20.0 101.5 16.6 111.7 18.8C121.8 20.9 136.6 28.4 144.0 35.9C151.3 43.3 153.4 53.1 155.8 63.3C158.1 73.6 157.7 91.7 158.1 97.4" stroke="#3c3c3c" stroke-width="1.16"/><path d="M45.9 55.3C47.2 52.0 47.7 41.1 53.8 35.7C60.0 30.3 73.0 25.7 82.7 22.9C92.5 20.1 102.2 16.7 112.5 18.9C122.8 21.1 137.0 28.8 144.3 36.2C151.6 43.6 154.0 53.2 156.3 63.4C158.6 73.7 158.0 91.8 158.4 97.5" stroke="#b4b4b4" stroke-width="1.02"/><path d="M53.3 34.8C58.2 32.5 72.6 24.2 82.4 21.1C92.2 18.1 101.5 14.2 111.9 16.6C122.2 19.0 137.1 27.8 144.5 35.5C152.0 43.2 154.6 58.3 156.7 62.9" stroke="#525252" stroke-width="1.46"/><path d="M44.9 55.7C46.1 52.1 46.2 40.3 52.4 34.5C58.5 28.6 72.0 23.6 82.0 20.6C92.0 17.5 101.8 14.0 112.4 16.4C123.0 18.8 138.3 27.1 145.8 34.7C153.2 42.4 155.0 51.7 157.1 62.2C159.2 72.8 158.2 91.9 158.4 97.9" stroke="#565656" stroke-width="0.78"/><path d="M52.2 34.4C57.1 31.9 71.6 22.9 81.6 19.7C91.7 16.5 101.8 12.9 112.6 15.1C123.4 17.3 138.9 25.2 146.5 33.0C154.1 40.8 156.3 57.2 158.2 62.0" stroke="#3e3e3e" stroke-width="1.19"/><path d="M70.4 54.6Q68.8 43.2 77.5 35.6" stroke="#3c3c3c" stroke-width="0.72"/><path d="M94.9 55.7Q93.6 38.6 103.6 27.2" stroke="#a5a5a5" stroke-width="1.13"/><path d="M73.6 55.0Q71.8 46.3 79.6 40.5" stroke="#3c3c3c" stroke-width="1.36"/><path d="M114.9 58.8Q113.4 49.6 122.4 43.4" stroke="#b4b4b4" stroke-width="1.39"/><path d="M127.0 64.7Q126.8 56.1 141.0 50.4" stroke="#505050" stroke-width="1.24"/><path d="M91.5 55.1Q89.8 42.8 98.2 34.6" stroke="#646464" stroke-width="1.39"/><path d="M94.7 55.8Q95.0 41.8 111.1 32.4" stroke="#505050" stroke-width="1.38"/><path d="M91.7 56.5Q91.0 44.2 103.5 36.1" stroke="#464646" stroke-width="0.89"/><path d="M72.3 58.8Q70.8 50.9 80.2 45.7" stroke="#505050" stroke-width="1.12"/><path d="M102.5 58.2Q101.6 50.6 112.7 45.4" stroke="#3c3c3c" stroke-width="1.03"/><path d="M67.8 57.8Q66.5 48.0 76.3 41.4" stroke="#b4b4b4" stroke-width="1.17"/><path d="M101.5 55.2Q101.2 47.0 114.9 41.5" stroke="#b4b4b4" stroke-width="0.88"/><path d="M111.7 57.7Q110.3 48.1 119.6 41.8" stroke="#464646" stroke-width="0.93"/><path d="M54.0 56.1Q53.3 50.1 65.5 46.0" stroke="#505050" stroke-width="1.29"/><path d="M126.9 59.6Q126.7 52.2 140.9 47.3" stroke="#646464" stroke-width="1.22"/><path d="M119.2 59.2Q117.7 45.0 126.8 35.5" stroke="#a5a5a5" stroke-width="0.85"/><path d="M86.6 54.8Q86.7 46.9 101.7 41.5" stroke="#505050" stroke-width="1.16"/><path d="M80.3 56.7Q80.1 48.0 93.9 42.3" stroke="#505050" stroke-width="1.16"/><path d="M86.3 55.2Q85.1 39.0 95.6 28.1" stroke="#3c3c3c" stroke-width="0.74"/><path d="M65.2 58.1Q63.1 48.6 69.8 42.3" stroke="#969696" stroke-width="1.17"/><path d="M77.1 54.2Q76.4 39.4 88.7 29.5" stroke="#969696" stroke-width="1.22"/><path d="M67.6 55.2Q66.9 44.5 78.8 37.4" stroke="#464646" stroke-width="1.04"/><path d="M71.4 59.3Q71.3 45.5 86.0 36.3" stroke="#3c3c3c" stroke-width="0.73"/><path d="M71.8 57.2Q71.4 43.4 84.8 34.2" stroke="#505050" stroke-width="0.81"/><path d="M56.0 59.6Q56.5 50.6 73.6 44.7" stroke="#969696" stroke-width="1.47"/><path d="M102.9 59.2Q101.4 44.6 110.1 34.8" stroke="#969696" stroke-width="0.77"/></g>
  </g>
  <rect x="30" y="10" width="140" height="190" fill="#000" filter="url(#bgr)" opacity=".18"/>
</g>
</g>
<path d="M62.6 173.5L70 180L80 189L88.5 200L66 200L63.8 192Z" fill="#f4f4f4"/>
<path d="M139.5 163L143.5 189.4L141 200L116 200L124 186L131 174Z" fill="#f2f2f2"/>
</g></g>
<rect x="31.9" y="710.55" width="565.78" height="49.95" fill="#80c3e7"/>
<rect x="597.68" y="710.55" width="135.96" height="49.95" fill="#dddee0"/>
<rect x="733.63" y="710.55" width="476.97" height="49.95" fill="#ffd500"/>
<rect x="30.85" y="710.35" width="1.3" height="64.35" fill="#2a2a2a"/>
<rect x="148.78" y="710.55" width="1.16" height="49.95" fill="#fff"/>
<rect x="148.76" y="760.20" width="1.3" height="14.50" fill="#2a2a2a"/>
<rect x="266.69" y="710.55" width="1.16" height="49.95" fill="#fff"/>
<rect x="266.67" y="760.20" width="1.3" height="14.50" fill="#2a2a2a"/>
<rect x="384.60" y="710.55" width="1.16" height="49.95" fill="#fff"/>
<rect x="384.58" y="760.20" width="1.3" height="14.50" fill="#2a2a2a"/>
<rect x="502.51" y="710.55" width="1.16" height="49.95" fill="#fff"/>
<rect x="502.49" y="760.20" width="1.3" height="14.50" fill="#2a2a2a"/>
<rect x="620.40" y="710.35" width="1.3" height="64.35" fill="#2a2a2a"/>
<rect x="738.33" y="710.55" width="1.16" height="49.95" fill="#fff"/>
<rect x="738.31" y="760.20" width="1.3" height="14.50" fill="#2a2a2a"/>
<rect x="856.24" y="710.55" width="1.16" height="49.95" fill="#fff"/>
<rect x="856.22" y="760.20" width="1.3" height="14.50" fill="#2a2a2a"/>
<rect x="974.15" y="710.55" width="1.16" height="49.95" fill="#fff"/>
<rect x="974.13" y="760.20" width="1.3" height="14.50" fill="#2a2a2a"/>
<rect x="1092.06" y="710.55" width="1.16" height="49.95" fill="#fff"/>
<rect x="1092.04" y="760.20" width="1.3" height="14.50" fill="#2a2a2a"/>
<rect x="1209.95" y="710.35" width="1.3" height="64.35" fill="#2a2a2a"/>
</svg>
<h1 class="t title" style="top:50px;font-size:63px;--e:1.2px;"><span style="margin-left:21.66px;--s:0.9413">Wybory </span><span style="margin-left:232.54px;--s:0.9575">prezydenckie </span><span style="margin-left:400.44px;--s:0.9143">w </span><span style="margin-left:60.18px;--s:0.9536">Argentynie</span></h1>
<p class="t lead l1" style="top:138px;font-size:34px;--e:0.7px;"><span style="margin-left:25.40px;--s:0.8982">Po </span><span style="margin-left:43.89px;--s:0.9337">przeliczeniu </span><span style="margin-left:176.40px;--s:0.9264">głosów </span><span style="margin-left:107.33px;--s:0.8355">z </span><span style="margin-left:21.27px;--s:0.9743">ponad </span><span style="margin-left:99.23px;--s:0.9159">90% </span><span style="margin-left:69.77px;--s:0.9736">lokali </span><span style="margin-left:84.78px;--s:0.9235">wyborczych </span><span style="margin-left:172.37px;--s:0.9175">Fernandez </span><span style="margin-left:155.31px;--s:0.9512">zdobył </span><span style="margin-left:101.86px;--s:0.9626">poparcie</span></p>
<p class="t lead l2" style="top:180px;font-size:34px;--e:0.7px;"><span style="margin-left:25.63px;--s:0.9586">blisko </span><span style="margin-left:90.78px;--s:0.8996">48% </span><span style="margin-left:70.07px;--s:0.9557">wyborców, </span><span style="margin-left:158.88px;--s:0.8121">a </span><span style="margin-left:23.57px;--s:0.9250">Macri </span><span style="margin-left:85.45px;--s:0.6459">– </span><span style="margin-left:20.44px;--s:0.9248">niespełna </span><span style="margin-left:143.58px;--s:0.9181">41%. </span><span style="margin-left:77.41px;--s:0.8751">Oznacza </span><span style="margin-left:126.76px;--s:0.9751">to, </span><span style="margin-left:42.70px;--s:0.8789">że </span><span style="margin-left:38.68px;--s:0.9133">nie </span><span style="margin-left:50.04px;--s:0.9376">będzie </span><span style="margin-left:101.13px;--s:0.9250">konieczna</span></p>
<p class="t lead l3" style="top:223px;font-size:34px;--e:0.7px;"><span style="margin-left:25.82px;--s:0.9097">druga </span><span style="margin-left:89.77px;--s:0.9105">tura </span><span style="margin-left:64.49px;--s:0.9617">wyborów, </span><span style="margin-left:143.35px;--s:0.9041">gdyż </span><span style="margin-left:71.93px;--s:0.9491">kandydat </span><span style="margin-left:139.79px;--s:0.9593">opozycji </span><span style="margin-left:125.22px;--s:0.9472">otrzymał </span><span style="margin-left:130.81px;--s:0.9415">niezbędnych </span><span style="margin-left:187.12px;--s:0.9720">ponad </span><span style="margin-left:100.11px;--s:0.9011">45%</span></p>
<p class="t lead l4" style="top:265px;font-size:34px;--e:0.7px;"><span style="margin-left:25.75px;--s:0.9551">głosów. </span><span style="margin-left:114.61px;--s:0.9122">Frekwencja </span><span style="margin-left:169.01px;--s:0.9064">wyborcza </span><span style="margin-left:141.00px;--s:0.9246">wyniosła </span><span style="margin-left:130.36px;--s:0.9739">około </span><span style="margin-left:87.30px;--s:0.9042">81%.</span></p>
<h2 class="t sub" style="top:339px;font-size:32px;--e:0.7px;"><span style="margin-left:26.72px;--s:0.9261">WSTĘPNE </span><span style="margin-left:157.41px;--s:0.9514">WYNIKI </span><span style="margin-left:119.59px;--s:0.9108">WYBORÓW </span><span style="margin-left:172.44px;--s:0.9340">PREZYDENCKICH </span><span style="margin-left:266.55px;--s:0.8782">W </span><span style="margin-left:34.55px;--s:0.9314">ARGENTYNIE</span></h2>
<p class="t note" style="top:382px;font-size:29px;--e:0.6px;"><span style="margin-left:25.27px;--s:0.9068">Dane </span><span style="margin-left:70.56px;--s:0.8747">w </span><span style="margin-left:25.74px;--s:0.9608">procentach, </span><span style="margin-left:151.16px;--s:1.0255">po </span><span style="margin-left:39.78px;--s:0.9384">przeliczeniu </span><span style="margin-left:150.29px;--s:0.9019">96% </span><span style="margin-left:59.26px;--s:0.9381">głosów</span></p>
<h3 class="t name a" style="top:512px;font-size:27.5px;--e:0.6px;"><span style="margin-left:276.67px;--s:1.0322">Alberto </span><span style="margin-left:106.70px;--s:1.0078">Fernandez</span></h3>
<p class="t party a" style="top:546px;font-size:29px;--e:0.6px;"><span style="margin-left:276.93px;--s:0.7599">FRENTE </span><span style="margin-left:96.23px;--s:0.8537">DE </span><span style="margin-left:39.45px;--s:0.7776">TODOS</span></p>
<p class="t pct a" style="top:581px;font-size:29px;--e:0.6px;"><span style="margin-left:276.82px;--s:0.8990">48,02%</span></p>
<h3 class="t name b" style="top:512px;font-size:27.5px;--e:0.6px;"><span style="margin-left:780.98px;--s:0.9986">Mauricio </span><span style="margin-left:120.78px;--s:1.0160">Macri</span></h3>
<p class="t party b" style="top:546px;font-size:29px;--e:0.6px;"><span style="margin-left:692.02px;--s:0.8129">JUNTOS </span><span style="margin-left:100.20px;--s:0.7708">POR </span><span style="margin-left:55.91px;--s:0.7563">EL </span><span style="margin-left:32.61px;--s:0.8223">CAMBIO</span></p>
<p class="t pct b" style="top:582px;font-size:29px;--e:0.6px;"><span style="margin-left:887.13px;--s:0.8876">40,45%</span></p>
<div class="t axis" style="top:783px;font-size:24px;--e:0.45px;"><span style="margin-left:25.37px;--s:0.9148">0 </span><span style="margin-left:109.81px;--s:0.8984">10 </span><span style="margin-left:119.49px;--s:0.9298">20 </span><span style="margin-left:115.69px;--s:0.9225">30 </span><span style="margin-left:120.78px;--s:0.9037">40 </span><span style="margin-left:114.81px;--s:0.9266">50 </span><span style="margin-left:120.22px;--s:0.9298">60 </span><span style="margin-left:116.54px;--s:0.9009">70 </span><span style="margin-left:119.45px;--s:0.9222">80 </span><span style="margin-left:115.60px;--s:0.9260">90 </span><span style="margin-left:91.06px;--s:0.9212">100%</span></div>
<p class="t src" style="top:849px;font-size:29px;--e:0.65px;"><span style="margin-left:25.29px;--s:0.9863">Źródło: </span><span style="margin-left:93.49px;--s:0.8595">DINE</span></p>
<div class="t reuters" style="top:910px;font-size:22px;--e:0.4px;"><span style="margin-left:1057.89px;--s:1.0092">REUTERS</span></div>
<svg class="rdots" width="41" height="41" viewBox="0 0 41 41" style="position:absolute;left:1013px;top:900px"><g fill="#000"><circle cx="26.60" cy="20.50" r="0.61"/><circle cx="26.22" cy="22.65" r="0.59"/><circle cx="25.13" cy="24.55" r="0.53"/><circle cx="23.45" cy="25.96" r="0.44"/><circle cx="21.39" cy="26.70" r="0.33"/><circle cx="19.21" cy="26.70" r="0.33"/><circle cx="17.15" cy="25.96" r="0.44"/><circle cx="15.47" cy="24.55" r="0.53"/><circle cx="14.38" cy="22.65" r="0.59"/><circle cx="14.00" cy="20.50" r="0.61"/><circle cx="14.38" cy="18.35" r="0.59"/><circle cx="15.47" cy="16.45" r="0.53"/><circle cx="17.15" cy="15.04" r="0.44"/><circle cx="19.21" cy="14.30" r="0.33"/><circle cx="21.39" cy="14.30" r="0.33"/><circle cx="23.45" cy="15.04" r="0.44"/><circle cx="25.13" cy="16.45" r="0.53"/><circle cx="26.22" cy="18.35" r="0.59"/><circle cx="28.60" cy="21.81" r="0.82"/><circle cx="27.78" cy="24.31" r="0.78"/><circle cx="26.24" cy="26.44" r="0.69"/><circle cx="24.11" cy="27.98" r="0.58"/><circle cx="21.61" cy="28.80" r="0.45"/><circle cx="18.99" cy="28.80" r="0.45"/><circle cx="16.49" cy="27.98" r="0.58"/><circle cx="14.36" cy="26.44" r="0.69"/><circle cx="12.82" cy="24.31" r="0.78"/><circle cx="12.00" cy="21.81" r="0.82"/><circle cx="12.00" cy="19.19" r="0.82"/><circle cx="12.82" cy="16.69" r="0.78"/><circle cx="14.36" cy="14.56" r="0.69"/><circle cx="16.49" cy="13.02" r="0.58"/><circle cx="18.99" cy="12.20" r="0.45"/><circle cx="21.61" cy="12.20" r="0.45"/><circle cx="24.11" cy="13.02" r="0.58"/><circle cx="26.24" cy="14.56" r="0.69"/><circle cx="27.78" cy="16.69" r="0.78"/><circle cx="28.60" cy="19.19" r="0.82"/><circle cx="31.10" cy="20.50" r="1.04"/><circle cx="30.66" cy="23.54" r="1.02"/><circle cx="29.39" cy="26.34" r="0.95"/><circle cx="27.37" cy="28.66" r="0.85"/><circle cx="24.79" cy="30.32" r="0.71"/><circle cx="21.84" cy="31.19" r="0.56"/><circle cx="18.76" cy="31.19" r="0.56"/><circle cx="15.81" cy="30.32" r="0.71"/><circle cx="13.23" cy="28.66" r="0.85"/><circle cx="11.21" cy="26.34" r="0.95"/><circle cx="9.94" cy="23.54" r="1.02"/><circle cx="9.50" cy="20.50" r="1.04"/><circle cx="9.94" cy="17.46" r="1.02"/><circle cx="11.21" cy="14.66" r="0.95"/><circle cx="13.23" cy="12.34" r="0.85"/><circle cx="15.81" cy="10.68" r="0.71"/><circle cx="18.76" cy="9.81" r="0.56"/><circle cx="21.84" cy="9.81" r="0.56"/><circle cx="24.79" cy="10.68" r="0.71"/><circle cx="27.37" cy="12.34" r="0.85"/><circle cx="29.39" cy="14.66" r="0.95"/><circle cx="30.66" cy="17.46" r="1.02"/><circle cx="33.68" cy="22.26" r="1.31"/><circle cx="32.77" cy="25.67" r="1.27"/><circle cx="31.01" cy="28.72" r="1.17"/><circle cx="28.52" cy="31.21" r="1.04"/><circle cx="25.47" cy="32.97" r="0.88"/><circle cx="22.06" cy="33.88" r="0.69"/><circle cx="18.54" cy="33.88" r="0.69"/><circle cx="15.13" cy="32.97" r="0.88"/><circle cx="12.08" cy="31.21" r="1.04"/><circle cx="9.59" cy="28.72" r="1.17"/><circle cx="7.83" cy="25.67" r="1.27"/><circle cx="6.92" cy="22.26" r="1.31"/><circle cx="6.92" cy="18.74" r="1.31"/><circle cx="7.83" cy="15.33" r="1.27"/><circle cx="9.59" cy="12.28" r="1.17"/><circle cx="12.08" cy="9.79" r="1.04"/><circle cx="15.13" cy="8.03" r="0.88"/><circle cx="18.54" cy="7.12" r="0.69"/><circle cx="22.06" cy="7.12" r="0.69"/><circle cx="25.47" cy="8.03" r="0.88"/><circle cx="28.52" cy="9.79" r="1.04"/><circle cx="31.01" cy="12.28" r="1.17"/><circle cx="32.77" cy="15.33" r="1.27"/><circle cx="33.68" cy="18.74" r="1.31"/><circle cx="36.60" cy="20.50" r="1.59"/><circle cx="36.04" cy="24.72" r="1.57"/><circle cx="34.42" cy="28.65" r="1.48"/><circle cx="31.83" cy="32.03" r="1.34"/><circle cx="28.45" cy="34.62" r="1.16"/><circle cx="24.52" cy="36.24" r="0.95"/><circle cx="20.30" cy="36.80" r="0.72"/><circle cx="16.08" cy="36.24" r="0.95"/><circle cx="12.15" cy="34.62" r="1.16"/><circle cx="8.77" cy="32.03" r="1.34"/><circle cx="6.18" cy="28.65" r="1.48"/><circle cx="4.56" cy="24.72" r="1.57"/><circle cx="4.00" cy="20.50" r="1.59"/><circle cx="4.56" cy="16.28" r="1.57"/><circle cx="6.18" cy="12.35" r="1.48"/><circle cx="8.77" cy="8.97" r="1.34"/><circle cx="12.15" cy="6.38" r="1.16"/><circle cx="16.08" cy="4.76" r="0.95"/><circle cx="20.30" cy="4.20" r="0.73"/><circle cx="24.52" cy="4.76" r="0.95"/><circle cx="28.45" cy="6.38" r="1.16"/><circle cx="31.83" cy="8.97" r="1.34"/><circle cx="34.42" cy="12.35" r="1.48"/><circle cx="36.04" cy="16.28" r="1.57"/></g><circle cx="20.30" cy="20.50" r="5.3" fill="none" stroke="#777" stroke-width="0.7"/></svg>
<svg class="paplogo" width="60" height="42" viewBox="0 0 60 42" style="position:absolute;left:1170px;top:900px"><defs><clipPath id="papclip"><rect x="0" y="0" width="60" height="29.6"/></clipPath></defs><ellipse cx="30" cy="20.4" rx="24.2" ry="14.2" fill="#fff" stroke="#111" stroke-width="1.7"/><g clip-path="url(#papclip)"><text x="11.3" y="25.9" font-family="Liberation Sans, sans-serif" font-weight="bold" font-size="22.5" fill="#111" stroke="#111" stroke-width="1.5" stroke-linejoin="round" textLength="39.6" lengthAdjust="spacingAndGlyphs">pap</text></g></svg>
</div>
</body>
</html>
